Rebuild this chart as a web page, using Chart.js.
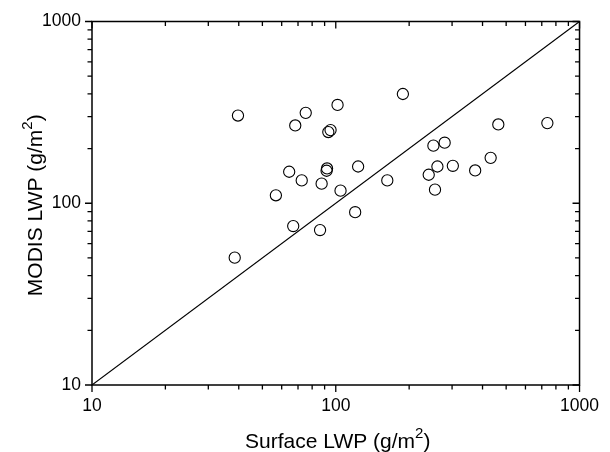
<!DOCTYPE html>
<html>
<head>
<meta charset="utf-8">
<script src="https://cdn.jsdelivr.net/npm/chart.js@4/dist/chart.umd.min.js"></script>
<style>
  html, body { margin: 0; padding: 0; background: #fff; }
  #wrap { width: 610px; height: 452px; position: relative; }
</style>
</head>
<body>
<div id="wrap"><canvas id="c" width="610" height="452"></canvas></div>
<script>
// Surface LWP (g/m^2) on x, MODIS LWP (g/m^2) on y
const surfaceLWP = [39.7, 75.3, 101.7, 68.2, 95.2, 93.2, 64.4, 72.5, 92.1, 91.7, 87.5, 123.5, 104.6, 162.7, 56.8, 66.9, 86.2, 120.1, 38.5, 188.5, 251.5, 279.7, 261.2, 240.6, 302.2, 255.3, 373.1, 431.9, 464.3, 737.9];
const modisLWP   = [303.8, 314.3, 347.5, 267.9, 252.7, 246.5, 149.0, 133.6, 155.4, 150.9, 128.2, 159.3, 117.3, 133.6, 110.6, 74.9, 71.2, 89.3, 50.2, 399, 207.5, 215.4, 159.3, 143.5, 160.7, 118.8, 151.5, 177.7, 271.3, 276.1];
// 1:1 reference line end points
const oneToOneX = [10, 1000];
const oneToOneY = [10, 1000];
// axis tick labels
const majorTicks = [10, 100, 1000];
const minorMultipliers = [2, 3, 4, 5, 6, 7, 8, 9];
// axis titles: [main text, superscript, closing text]
const xTitle = ['Surface LWP (g/m', '2', ')'];
const yTitle = ['MODIS LWP (g/m', '2', ')'];

const FONT = "'Liberation Sans', Arial, Helvetica, sans-serif";

function drawSupTitle(ctx, parts, cx, cy, rot) {
  ctx.save();
  ctx.translate(cx, cy);
  ctx.rotate(rot);
  ctx.fillStyle = '#000';
  ctx.textBaseline = 'alphabetic';
  ctx.textAlign = 'left';
  const big = '21px ' + FONT, small = '15px ' + FONT;
  ctx.font = big; const w1 = ctx.measureText(parts[0]).width; const w3 = ctx.measureText(parts[2]).width;
  ctx.font = small; const w2 = ctx.measureText(parts[1]).width;
  let x = -(w1 + w2 + w3) / 2;
  ctx.font = big; ctx.fillText(parts[0], x, 0); x += w1;
  ctx.font = small; ctx.fillText(parts[1], x, -10); x += w2;
  ctx.font = big; ctx.fillText(parts[2], x, 0);
  ctx.restore();
}

const frameTicks = {
  id: 'frameTicks',
  afterDatasetsDraw(chart) {
    const {ctx, chartArea: a, scales: {x, y}} = chart;
    ctx.save();
    ctx.strokeStyle = '#000';
    ctx.lineWidth = 1.5;
    ctx.strokeRect(a.left, a.top, a.right - a.left, a.bottom - a.top);
    const values = [];
    majorTicks.forEach(v => values.push({v, major: true}));
    majorTicks.slice(0, -1).forEach(d => minorMultipliers.forEach(m => values.push({v: d * m, major: false})));
    ctx.lineWidth = 1.3;
    ctx.beginPath();
    values.forEach(({v, major}) => {
      const len = major ? 7 : 4.5;
      const px = x.getPixelForValue(v);
      ctx.moveTo(px, a.bottom); ctx.lineTo(px, a.bottom + len);
      ctx.moveTo(px, a.top); ctx.lineTo(px, a.top + len);
      const py = y.getPixelForValue(v);
      ctx.moveTo(a.left - len, py); ctx.lineTo(a.left, py);
      ctx.moveTo(a.right - len, py); ctx.lineTo(a.right, py);
    });
    ctx.stroke();
    const midX = (a.left + a.right) / 2, midY = (a.top + a.bottom) / 2;
    drawSupTitle(ctx, xTitle, midX + 2, 448, 0);
    drawSupTitle(ctx, yTitle, 42, midY + 2, -Math.PI / 2);
    ctx.restore();
  }
};

new Chart(document.getElementById('c'), {
  type: 'scatter',
  data: {
    datasets: [
      {
        type: 'line',
        data: oneToOneX.map((v, i) => ({x: v, y: oneToOneY[i]})),
        borderColor: '#000',
        borderWidth: 1.1,
        pointRadius: 0,
        fill: false,
        tension: 0
      },
      {
        data: surfaceLWP.map((v, i) => ({x: v, y: modisLWP[i]})),
        pointStyle: 'circle',
        pointRadius: 5.6,
        pointBorderWidth: 1.1,
        borderColor: '#000',
        backgroundColor: 'rgba(0,0,0,0)',
        pointBackgroundColor: 'rgba(0,0,0,0)'
      }
    ]
  },
  options: {
    responsive: false,
    animation: false,
    devicePixelRatio: 1,
    layout: { padding: { top: 19, right: 27, left: 0, bottom: 0 } },
    plugins: { legend: { display: false }, tooltip: { enabled: false } },
    scales: {
      x: {
        type: 'logarithmic',
        min: 10, max: 1000,
        afterBuildTicks: s => { s.ticks = majorTicks.map(v => ({value: v})); },
        afterFit: s => { s.height = 67; },
        grid: { display: false, drawTicks: false },
        border: { display: false },
        ticks: {
          autoSkip: false, maxRotation: 0, padding: 11,
          color: '#000',
          font: { family: FONT, size: 17.5 },
          callback: v => String(v)
        },
        title: { display: false }
      },
      y: {
        type: 'logarithmic',
        min: 10, max: 1000,
        afterBuildTicks: s => { s.ticks = majorTicks.map(v => ({value: v})); },
        afterFit: s => { s.width = 92; },
        grid: { display: false, drawTicks: false },
        border: { display: false },
        ticks: {
          autoSkip: false, padding: 11,
          color: '#000',
          font: { family: FONT, size: 17.5 },
          callback: v => String(v)
        },
        title: { display: false }
      }
    }
  },
  plugins: [frameTicks]
});
</script>
</body>
</html>
